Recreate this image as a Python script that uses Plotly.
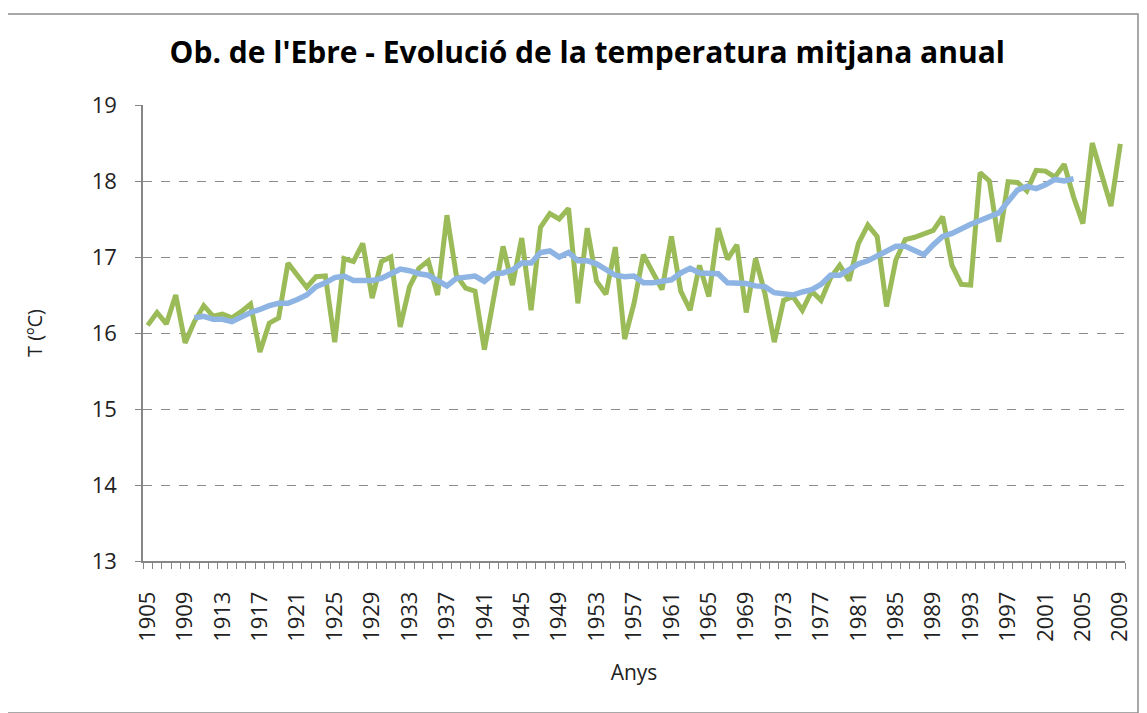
import plotly.graph_objects as go

# annual mean temperature, Ob. de l'Ebre
years = list(range(1905, 2010))
temp = [16.10, 16.27, 16.12, 16.50, 15.87, 16.15, 16.36, 16.22, 16.25, 16.20,
        16.28, 16.38, 15.75, 16.13, 16.20, 16.92, 16.76, 16.60, 16.74, 16.75,
        15.88, 16.98, 16.94, 17.18, 16.46, 16.94, 17.00, 16.08, 16.61, 16.85,
        16.95, 16.50, 17.55, 16.76, 16.59, 16.55, 15.78, 16.45, 17.14, 16.63,
        17.25, 16.30, 17.39, 17.57, 17.50, 17.64, 16.39, 17.38, 16.68, 16.51,
        17.13, 15.92, 16.39, 17.03, 16.79, 16.57, 17.27, 16.55, 16.30, 16.89,
        16.48, 17.38, 16.97, 17.16, 16.27, 16.98, 16.52, 15.88, 16.43, 16.48,
        16.30, 16.55, 16.43, 16.72, 16.89, 16.69, 17.18, 17.42, 17.27, 16.35,
        16.96, 17.23, 17.26, 17.31, 17.35, 17.53, 16.89, 16.64, 16.63, 18.11,
        18.00, 17.20, 17.99, 17.98, 17.87, 18.14, 18.13, 18.05, 18.22, 17.79,
        17.44, 18.50, 18.08, 17.67, 18.49]

# 10-year moving average (1910-2004)
ma_years = list(range(1910, 2005))
ma_temp = [16.20, 16.22, 16.18, 16.18, 16.15, 16.22, 16.27, 16.31, 16.36, 16.39,
           16.39, 16.44, 16.50, 16.61, 16.66, 16.73, 16.75, 16.69, 16.69, 16.69,
           16.72, 16.79, 16.84, 16.82, 16.78, 16.76, 16.68, 16.62, 16.72, 16.73,
           16.75, 16.68, 16.78, 16.79, 16.83, 16.92, 16.92, 17.06, 17.08, 17.00,
           17.06, 16.95, 16.95, 16.91, 16.83, 16.76, 16.74, 16.75, 16.66, 16.66,
           16.68, 16.70, 16.79, 16.85, 16.79, 16.79, 16.78, 16.66, 16.65, 16.65,
           16.62, 16.61, 16.53, 16.51, 16.50, 16.54, 16.57, 16.64, 16.76, 16.76,
           16.83, 16.91, 16.95, 17.01, 17.07, 17.14, 17.14, 17.08, 17.03, 17.16,
           17.27, 17.31, 17.38, 17.43, 17.48, 17.53, 17.58, 17.73, 17.88, 17.93,
           17.90, 17.95, 18.02, 18.00, 18.03]

tick_years = list(range(1905, 2010, 4))
tick_text = [str(y) for y in tick_years]

font = "Open Sans"

fig = go.Figure()
fig.add_trace(go.Scatter(x=years, y=temp, mode="lines",
                         line=dict(color="#9BBB59", width=5), name="T"))
fig.add_trace(go.Scatter(x=ma_years, y=ma_temp, mode="lines",
                         line=dict(color="#8EB4E3", width=5.5), name="mitjana mòbil"))

# page body has an 8px margin, so the plot box is offset accordingly
fig.update_layout(
    width=1147, height=713,
    margin=dict(l=135, r=30, t=97, b=160),
    paper_bgcolor="white", plot_bgcolor="white",
    showlegend=False,
    font=dict(family=font, color="#222222"),
    title=dict(text="<b>Ob. de l'Ebre - Evolució de la temperatura mitjana anual</b>",
               x=0.505, xanchor="center", y=0.938, yanchor="middle",
               font=dict(size=30, family=font, color="black")),
)

fig.update_xaxes(
    range=[1904.5, 2009.5],
    tickmode="array", tickvals=tick_years, ticktext=tick_text,
    tickangle=-90, tickfont=dict(size=22, color="#222222"),
    ticks="", ticklabelstandoff=20, showgrid=False, zeroline=False,
    showline=True, linecolor="#868686", linewidth=1.5,
    minor=dict(ticks="outside", tick0=1904.5, dtick=1, ticklen=6,
               tickcolor="#868686", showgrid=False),
    title=dict(text="Anys", font=dict(size=21), standoff=24),
)
fig.update_yaxes(
    range=[13, 19], dtick=1,
    tickfont=dict(size=22, color="#222222"),
    ticks="outside", ticklen=6, tickcolor="#868686", ticklabelstandoff=14,
    showgrid=True, gridcolor="#8c8c8c", griddash="dash", gridwidth=1,
    zeroline=False, showline=True, linecolor="#868686", linewidth=1.5,
    title=dict(text="T (ºC)", font=dict(size=20), standoff=44),
)

# chart area border
fig.add_shape(type="rect", xref="paper", yref="paper",
              x0=(-3 - 135) / 982, x1=(1130 - 135) / 982,
              y0=(553 - 705) / 456, y1=(553 - 6) / 456,
              line=dict(color="#8c8c8c", width=1.5), layer="below")

fig.write_html("out.html")
